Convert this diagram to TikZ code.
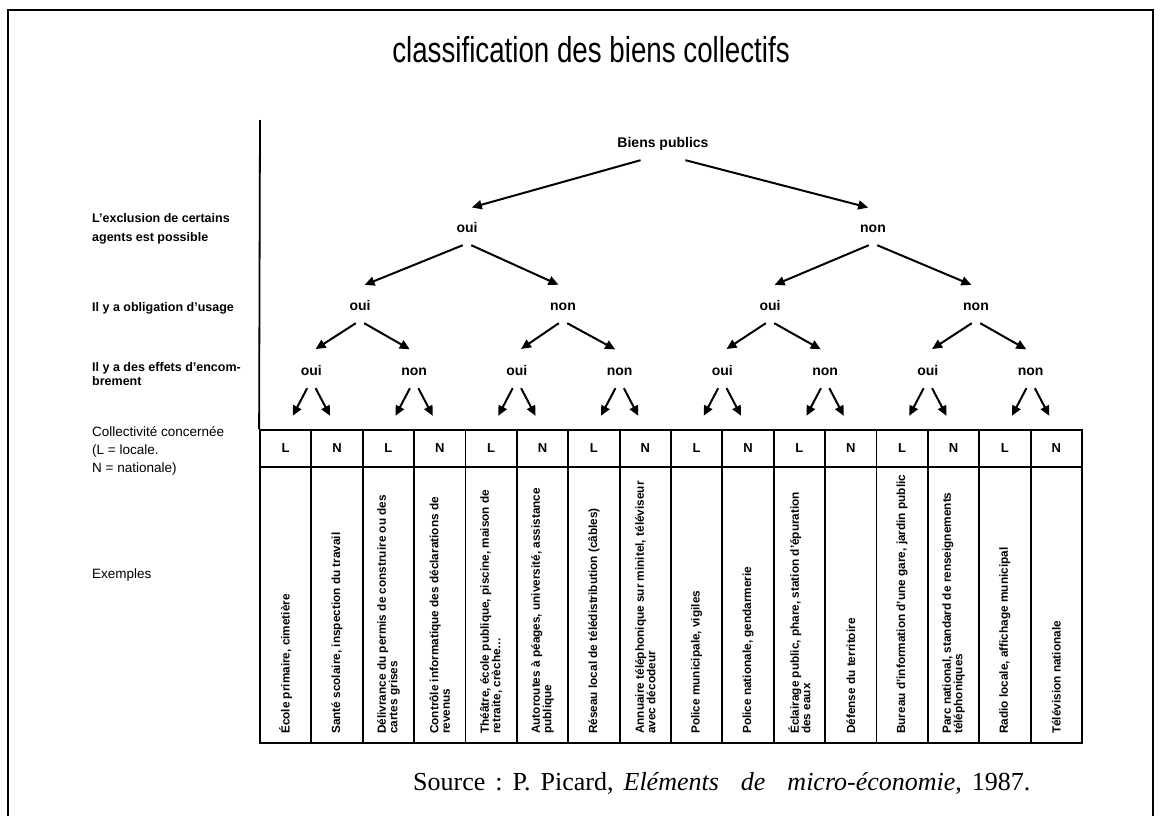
\documentclass[tikz,border=0pt]{standalone}
\usepackage{fontspec}
\setmainfont{Liberation Serif}
\newfontfamily\sansf{Liberation Sans}
\newfontfamily\titlef[FakeStretch=0.77]{Liberation Sans}
\usetikzlibrary{arrows.meta}
\tikzset{
  arr/.style={draw, line width=2pt, -{Triangle[length=10pt,width=9pt]}, shorten >=5pt},
  tn/.style={font=\sansf\bfseries\fontsize{14}{16}\selectfont, text height=10pt, text depth=0pt, minimum height=36pt, inner sep=0pt},
  lab/.style={font=\sansf\bfseries\fontsize{12.5}{18.5}\selectfont, anchor=west, align=left, inner sep=0pt},
  labl/.style={font=\sansf\fontsize{13.5}{18}\selectfont, anchor=west, align=left, inner sep=0pt},
  hcell/.style={draw, line width=1.8pt, minimum width=51.375pt, minimum height=37pt, inner sep=0pt, font=\sansf\bfseries\fontsize{13}{13}\selectfont},
  ecell/.style={draw, line width=1.8pt, minimum width=51.375pt, minimum height=276pt, inner sep=0pt},
  ex/.style={rotate=90, anchor=west, align=left, inner sep=0pt, font=\sansf\bfseries\fontsize{11.8}{11.5}\selectfont},
  frame/.style={line width=2.5pt},
}
\begin{document}
\begin{tikzpicture}[x=1pt,y=-1pt]
\useasboundingbox (0,0) rectangle (1162,816);
% frame
\coordinate (fbl) at (8,816);
\coordinate (ftl) at (8,10);
\coordinate (ftr) at (1153,10);
\coordinate (fbr) at (1153,816);
\draw[frame] (fbl) -- (ftl) -- (ftr) -- (fbr);
% title
\node[font=\titlef\fontsize{36}{36}\selectfont] (title) at (591,50) {classification des biens collectifs};
% left labels
\node[lab] (q1) at (92,229) {L’exclusion de certains\\agents est possible};
\node[lab] (q2) at (92,308) {Il y a obligation d’usage};
\node[lab] (q3) at (92,374) {Il y a des effets d’encom-\\[-4pt]brement};
\node[labl] (q4) at (92,451) {Collectivité concernée\\(L = locale.\\N = nationale)};
\node[labl] (q5) at (92,575) {Exemples};
% table cells
\foreach \i/\t in {0/L,1/N,2/L,3/N,4/L,5/N,6/L,7/N,8/L,9/N,10/L,11/N,12/L,13/N,14/L,15/N}{
  \node[hcell] (h\i) at ({260+(\i+0.5)*51.375},448.5) {\t};
  \node[ecell] (c\i) at ({260+(\i+0.5)*51.375},605) {};
}
% axis line
\coordinate (axtop) at (260,120);
\draw[line width=1.8pt] (axtop) -- (h0.north west);
% examples
\foreach \i/\t in {
 0/{École primaire, cimetière},
 1/{Santé scolaire, inspection du travail},
 2/{Délivrance du permis de construire ou des\\cartes grises},
 3/{Contrôle informatique des déclarations de\\revenus},
 4/{Théâtre, école publique, piscine, maison de\\retraite, crèche…},
 5/{Autoroutes à péages, université, assistance\\publique},
 6/{Réseau local de télédistribution (câbles)},
 7/{Annuaire téléphonique sur minitel, téléviseur\\avec décodeur},
 8/{Police municipale, vigiles},
 9/{Police nationale, gendarmerie},
 10/{Éclairage public, phare, station d’épuration\\des eaux},
 11/{Défense du territoire},
 12/{Bureau d’information d’une gare, jardin public},
 13/{Parc national, standard de renseignements\\téléphoniques},
 14/{Radio locale, affichage municipal},
 15/{Télévision nationale}}{
  \node[ex] (e\i) at ({260+(\i+0.5)*51.375},734) {\t};
}
% tree
\node[tn] (r) at (663,142) {Biens publics};
\node[tn] (k0) at (467,227) {oui};
\node[tn] (k1) at (873,227) {non};
\node[tn] (m0) at (360,305) {oui};
\node[tn] (m1) at (563,305) {non};
\node[tn] (m2) at (770,305) {oui};
\node[tn] (m3) at (976,305) {non};
\foreach \j/\t in {0/oui,1/non,2/oui,3/non,4/oui,5/non,6/oui,7/non}{
  \node[tn] (n\j) at ({260+(2*\j+1)*51.375},370) {\t};
}
\draw[arr] (r.-141) -- (k0.north);
\draw[arr] (r.-39) -- (k1.north);
\foreach \p in {0,1}{
  \pgfmathtruncatemacro\lc{2*\p}
  \pgfmathtruncatemacro\rc{2*\p+1}
  \draw[arr] (k\p.-103) -- (m\lc.north);
  \draw[arr] (k\p.-77) -- (m\rc.north);
}
\foreach \p in {0,...,3}{
  \pgfmathtruncatemacro\lc{2*\p}
  \pgfmathtruncatemacro\rc{2*\p+1}
  \draw[arr] (m\p.-103) -- (n\lc.north);
  \draw[arr] (m\p.-77) -- (n\rc.north);
}
\foreach \p in {0,...,7}{
  \pgfmathtruncatemacro\lc{2*\p}
  \pgfmathtruncatemacro\rc{2*\p+1}
  \draw[arr, shorten >=15pt] (n\p.-103) -- (h\lc.north);
  \draw[arr, shorten >=15pt] (n\p.-77) -- (h\rc.north);
}
% source
\node[anchor=west, inner sep=0pt, font=\fontsize{26}{26}\selectfont] (src) at (413,783) {\frenchspacing\spaceskip=10pt plus 1pt\relax Source : P. Picard, \textit{Eléments\hspace{12pt} de\hspace{12pt} micro-économie}, 1987.};
\end{tikzpicture}
\end{document}
